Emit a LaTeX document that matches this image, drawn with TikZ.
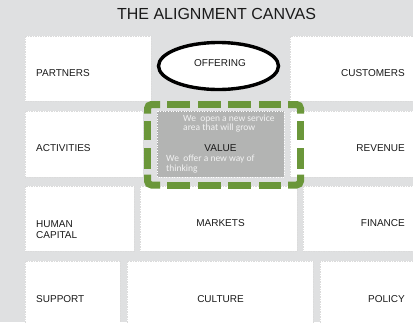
\documentclass[tikz,border=0pt]{standalone}
\usepackage{fontspec}
\setmainfont{Liberation Sans}
\newfontfamily\calfont{Carlito}
\definecolor{bgc}{HTML}{DFE0E1}
\definecolor{valgray}{HTML}{B3B4B3}
\definecolor{frgreen}{HTML}{6B973A}
\definecolor{txt}{HTML}{1A1A1A}
\tikzset{
  cell/.style={fill=white, draw=black!14, line width=0.5pt, dash pattern=on 1.5pt off 1pt},
  lbl/.style={inner sep=0pt, font=\fontsize{10}{12}\selectfont, text=txt},
  note/.style={inner sep=0pt, font=\calfont\fontsize{9.5}{11.5}\selectfont, text=white!95!black, align=left},
  gdash/.style={draw=frgreen, line width=7pt, line cap=butt, rounded corners=4pt},
}
\begin{document}
\begin{tikzpicture}[x=1pt, y=-1pt]
\useasboundingbox (0,0) rectangle (413,322);
\fill[bgc] (0,0) rectangle (413,322);
% title
\node[inner sep=0pt, font=\fontsize{16}{18}\selectfont, text=txt] (title) at (216.5,14.3) {THE ALIGNMENT CANVAS};
% row 1
\draw[cell] (25,36) rectangle (151,101);
\draw[cell] (290,36) rectangle (420,101);
% row 2
\draw[cell] (25,111) rectangle (143,177);
\draw[cell] (290,111) rectangle (420,177);
% row 3
\draw[cell] (25,186) rectangle (134,251);
\draw[cell] (140,186) rectangle (297,251);
\draw[cell] (303,186) rectangle (420,251);
% row 4
\draw[cell] (25,261) rectangle (120,330);
\draw[cell] (127,261) rectangle (313,330);
\draw[cell] (320,261) rectangle (420,330);
% offering ellipse
\draw[fill=white, draw=black, line width=3.4pt] (218.5,66) ellipse [x radius=60, y radius=23.5];
% value box
\draw[fill=valgray, draw=white, line width=0.6pt, dotted] (157,111) rectangle (284,177);
% green dashed frame: corners
\draw[gdash] (160,104.5) -- (147.5,104.5) -- (147.5,113.5);
\draw[gdash] (288,104.5) -- (300.5,104.5) -- (300.5,113.5);
\draw[gdash] (147.5,174.5) -- (147.5,185) -- (160,185);
\draw[gdash] (300.5,174.5) -- (300.5,185) -- (288,185);
% green dashed frame: straight dashes
\foreach \a/\b in {167/190, 198/220.5, 228/251, 259/281}{
  \draw[gdash] (\a,104.5) -- (\b,104.5);
  \draw[gdash] (\a,185) -- (\b,185);
}
\foreach \a/\b in {121/140, 148/168.5}{
  \draw[gdash] (147.5,\a) -- (147.5,\b);
  \draw[gdash] (300.5,\a) -- (300.5,\b);
}
% labels
\node[lbl, anchor=west] (partners) at (36,73) {PARTNERS};
\node[lbl, anchor=east] (customers) at (405,73) {CUSTOMERS};
\node[lbl] (offering) at (220,63) {OFFERING};
\node[lbl, anchor=west] (activities) at (36,148) {ACTIVITIES};
\node[lbl, anchor=east] (revenue) at (405,148) {REVENUE};
\node[lbl] (value) at (220.5,148) {VALUE};
\node[note, anchor=west] (n1) at (183,119) {We\ \ open a new service};
\node[note, anchor=west] (n2) at (183,128.5) {area that will grow};
\node[note, anchor=west] (n3) at (166,159) {We\ \ offer a new way of};
\node[note, anchor=west] (n4) at (166,169) {thinking};
\node[lbl, anchor=west, align=left] (human) at (36,229.3) {HUMAN\\[-1.2pt]CAPITAL};
\node[lbl] (markets) at (220.5,223) {MARKETS};
\node[lbl, anchor=east] (finance) at (405,223) {FINANCE};
\node[lbl, anchor=west] (support) at (36,299) {SUPPORT};
\node[lbl] (culture) at (220.5,299) {CULTURE};
\node[lbl, anchor=east] (policy) at (405,299) {POLICY};
\end{tikzpicture}
\end{document}
